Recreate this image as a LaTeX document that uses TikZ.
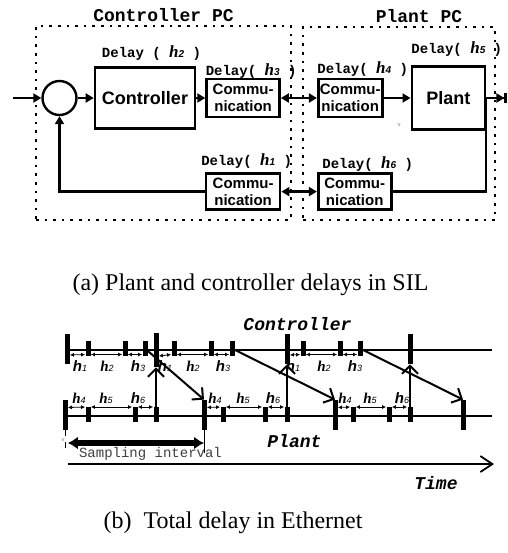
\documentclass[tikz,border=0pt]{standalone}
\usepackage{fontspec}
\setmainfont{Liberation Serif}
\setsansfont{Liberation Sans}
\setmonofont{Liberation Mono}
\usetikzlibrary{arrows.meta,positioning,fit}
% h with a small index: serif h in part (a), sans / serif h in part (b)
\newcommand{\hA}[1]{{\fontsize{8.5}{9}\selectfont\rmfamily\bfseries\itshape h}{\fontsize{5}{5}\selectfont\sffamily\itshape #1}}
\newcommand{\hS}[1]{{\fontsize{7.5}{8}\selectfont\sffamily\bfseries\itshape h}{\fontsize{4.5}{5}\selectfont\sffamily\itshape #1}}
\newcommand{\hR}[1]{{\fontsize{7.5}{8}\selectfont\rmfamily\bfseries\itshape h}{\fontsize{4.5}{5}\selectfont\sffamily\itshape #1}}

\begin{document}
\begin{tikzpicture}[
  x=0.5pt,y=-0.5pt,
  block/.style={draw,line width=1.3pt,inner sep=0.5pt,align=center,font=\sffamily\bfseries\fontsize{9}{10}\selectfont},
  comm/.style={block,font=\sffamily\bfseries\fontsize{7.5}{8.7}\selectfont,minimum height=19pt},
  junction/.style={circle,draw,line width=1.2pt,minimum size=17pt,inner sep=0pt},
  frame/.style={draw,line width=1.3pt,dash pattern=on 1.3pt off 3pt,inner sep=0pt},
  title/.style={font=\ttfamily\bfseries\fontsize{9}{10}\selectfont,inner sep=0.5pt},
  delay/.style={font=\ttfamily\bfseries\fontsize{7}{8}\selectfont,inner sep=0.5pt},
  arrow/.style={-{Triangle[length=4pt,width=4.5pt]},line width=1.3pt},
  twoway/.style={{Triangle[length=4pt,width=4.5pt]}-{Triangle[length=4pt,width=4.5pt]},line width=1.3pt},
  wire/.style={line width=1.3pt},
  timeline/.style={line width=1pt},
  bigbar/.style={fill=black,inner sep=0pt,minimum width=2.5pt,minimum height=15pt},
  smalltick/.style={fill=black,inner sep=0pt,minimum width=2.5pt,minimum height=7.5pt},
  hspan/.style={{Latex[length=2pt,width=2pt]}-{Latex[length=2pt,width=2pt]},line width=0.4pt},
  delayarrow/.style={-{Straight Barb[length=4pt,width=8pt]},line width=1pt},
  sample/.style={{Latex[length=5pt,width=6.5pt]}-{Latex[length=5pt,width=6.5pt]},line width=2.8pt},
  timeaxis/.style={-{Straight Barb[length=6pt,width=8pt]},line width=0.9pt},
  seqlabel/.style={font=\ttfamily\bfseries\itshape\fontsize{9}{10}\selectfont,inner sep=0.5pt},
  hlab/.style={inner sep=0pt},
  captext/.style={font=\fontsize{12}{14}\selectfont,inner sep=0pt},
  stray/.style={font=\sffamily\fontsize{3}{3}\selectfont,text=gray,inner sep=0pt}
]
  \useasboundingbox (0,0) rectangle (508,553);

  % (a) loop over the network
  \node[frame,fit={(36,26) (291,220)}] (cpc) {};
  \node[frame,fit={(303,27) (495,220)}] (ppc) {};
  \node[title,above=1pt of cpc] (cpctitle) {Controller PC};
  \node[title,above=1pt of ppc,xshift=10pt] (ppctitle) {Plant PC};

  \node[block,minimum width=50pt,minimum height=30.5pt] (ctrl) at (145,98) {Controller};
  \node[junction,left=8pt of ctrl] (sum) {};
  \node[comm,minimum width=36.5pt,right=4.5pt of ctrl] (ctrlsend) {Commu-\\nication};
  \node[comm,minimum width=32pt,right=18pt of ctrlsend] (plantrecv) {Commu-\\nication};
  \node[block,minimum width=36.5pt,minimum height=31.5pt,right=13.5pt of plantrecv] (plant) {Plant};
  \node[comm,minimum width=37pt,minimum height=18pt,below=27pt of ctrlsend] (ctrlrecv) {Commu-\\nication};
  \node[comm,minimum width=36.5pt,minimum height=18pt,below=27pt of plantrecv.south west,anchor=north west] (plantsend) {Commu-\\nication};

  \node[delay,above=2pt of ctrl,xshift=3.25pt] (dh2) {Delay ( \hA{2} )};
  \node[delay,above=-1pt of ctrlsend,xshift=4pt] (dh3) {Delay( \hA{3} )};
  \node[delay,above=0pt of plantrecv,xshift=6.25pt] (dh4) {Delay( \hA{4} )};
  \node[delay,above=3.5pt of plant,xshift=4.25pt] (dh5) {Delay( \hA{5} )};
  \node[delay,above=1.5pt of ctrlrecv,xshift=1.75pt] (dh1) {Delay( \hA{1} )};
  \node[delay,above=0pt of plantsend,xshift=6.5pt] (dh6) {Delay( \hA{6} )};
  \node[stray] (plantv) at (399,125) {v};

  \coordinate (in) at (13,98);
  \coordinate (out) at (507,98);
  \coordinate (tap) at (486,98);
  \draw[arrow] (in) -- (sum);
  \draw[arrow] (sum) -- (ctrl);
  \draw[arrow] (ctrl) -- (ctrlsend);
  \draw[twoway] (ctrlsend) -- (plantrecv);
  \draw[arrow] (plantrecv) -- (plant);
  \draw[wire,-{Triangle[length=4pt,width=4.5pt]Bar[width=5pt]}] (plant) -- (out);
  \draw[wire] (tap) |- (plantsend);
  \draw[twoway] (ctrlrecv) -- (plantsend);
  \draw[arrow] (ctrlrecv) -| (sum);

  \node[captext] (capa) at (250.5,285) {(a) Plant and controller delays in SIL};

  % (b) timing on the two hosts
  \node[seqlabel] (ctrllab) at (297.5,324) {Controller};
  \coordinate (cl0) at (67,350);
  \coordinate (cl1) at (492,350);
  \coordinate (pl0) at (65,416);
  \coordinate (pl1) at (492,416);
  \draw[timeline] (cl0) -- (cl1);
  \draw[timeline] (pl0) -- (pl1);

  \foreach \n/\x in {0/67,2/287,3/410} \node[bigbar] (cb\n) at (\x,349) {};
  \node[bigbar,minimum height=17pt] (cb1) at (156,350) {};
  \foreach \n/\x in {1/88,2/125,3/145,4/174,5/211,6/232,7/303,8/340,9/360}
    \node[smalltick] (ct\n) at (\x,348.5) {};
  \foreach \n/\x in {0/65,1/204,2/335,3/463} \node[bigbar] (pb\n) at (\x,415) {};
  \foreach \n/\x in {1/88,2/135,3/156,4/223,5/265,6/287,7/353,8/389,9/410}
    \node[smalltick] (pt\n) at (\x,414.5) {};

  \foreach \a/\b in {cb0/ct1,ct1/ct2,ct2/ct3,cb1/ct4,ct4/ct5,ct5/ct6,cb2/ct7,ct7/ct8,ct8/ct9}
    \draw[hspan] ([yshift=-3pt]\a.east) -- ([yshift=-3pt]\b.west);
  \foreach \a/\b in {pb0/pt1,pt1/pt2,pt2/pt3,pb1/pt4,pt4/pt5,pt5/pt6,pb2/pt7,pt7/pt8,pt8/pt9}
    \draw[hspan] ([yshift=3.75pt]\a.east) -- ([yshift=3.75pt]\b.west);

  \foreach \n/\x/\t in {1/80/{\hS{1}},2/107/{\hR{2}},3/138/{\hS{3}},4/165/{\hS{1}},5/193/{\hR{2}},6/223/{\hS{3}},7/293/{\hS{1}},8/324/{\hR{2}},9/355/{\hS{3}}}
    \node[hlab] (hc\n) at (\x,366) {\t};
  \foreach \n/\x/\t in {1/79/{\hR{4}},2/106/{\hR{5}},3/138/{\hS{6}},4/215/{\hR{4}},5/243/{\hR{5}},6/273/{\hS{6}},7/345/{\hR{4}},8/370/{\hR{5}},9/402/{\hS{6}}}
    \node[hlab] (hp\n) at (\x,398) {\t};

  \draw[delayarrow] (pt3.north) -- (cb1.south);
  \draw[delayarrow] (pt6.north) -- (cb2.south);
  \draw[delayarrow] (pt9.north) -- (cb3.south);
  \draw[delayarrow] (ct3) -- (pb1.north);
  \draw[delayarrow] (ct6) -- (pb2.north);
  \draw[delayarrow] (ct9) -- (pb3.north);

  \node[seqlabel] (plantlab) at (294.5,441) {Plant};
  \coordinate (sampy) at (0,443);
  \draw[sample] (pb0.east |- sampy) -- (pb1.center |- sampy);
  \draw[line width=0.4pt] (pb1.south) -- ++(0,23);
  \draw[line width=0.4pt,dashed] (pb0.south) -- ++(0,22);
  \node[stray] (samplev) at (63,440) {v};
  \node[font=\ttfamily\fontsize{7}{8}\selectfont,text=black!75,inner sep=0.5pt] (samplab) at (150.5,454) {Sampling interval};

  \coordinate (t0) at (68,464);
  \coordinate (t1) at (494,464);
  \draw[timeaxis] (t0) -- (t1);
  \node[seqlabel] (timelab) at (436,483) {Time};

  \node[captext] (capb) at (233,523) {(b)\ \ Total delay in Ethernet};
\end{tikzpicture}
\end{document}
